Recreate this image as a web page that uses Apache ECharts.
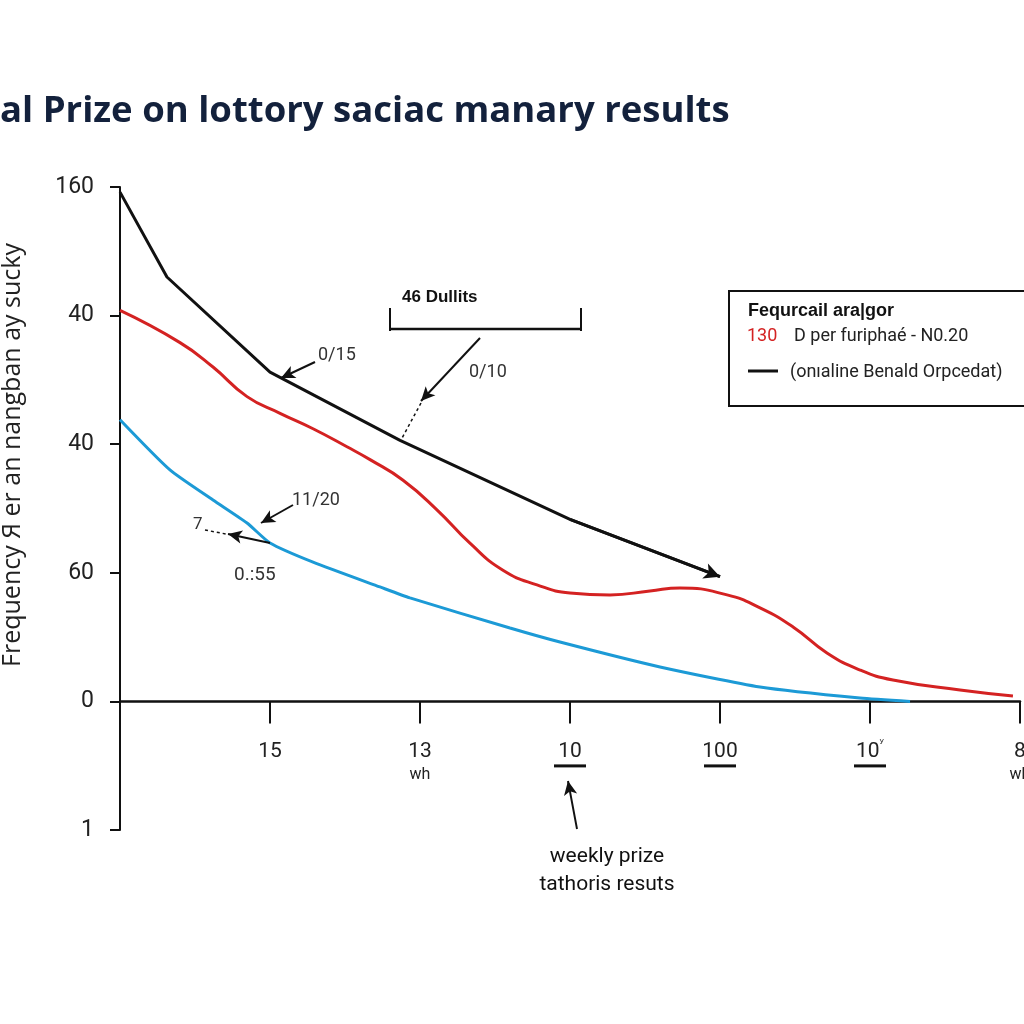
<!DOCTYPE html>
<html><head><meta charset="utf-8">
<script src="https://cdn.jsdelivr.net/npm/echarts@6/dist/echarts.min.js"></script>
<style>html,body{margin:0;padding:0;background:#fff;overflow:hidden;width:1024px;height:1024px}#c{width:1024px;height:1024px}</style>
</head><body><div id="c"></div>
<script>
// ---- text ----
const titleText = 'al Prize on lottory saciac manary results';
const yAxisTitle = 'Frequency Я er an nangban ay sucky';
// y tick labels for values -1,0,1,2,3,4
const yTickLabels = ['1', '0', '60', '40', '40', '160'];
// x tick labels for values 0..6
const xTickLabels = ['', '15', '13', '10', '100', '10', '8'];
const xTickSub = ['', '', 'wh', '', '', '', 'wh'];
const xTickSup = ['', '', '', '', '', 'ʸ', ''];
const xTickUnderlined = [false, false, false, true, true, true, false];

// ---- series (axis units) ----
const blackX = [0, 0.313, 1.0, 1.867, 3.0, 4.0];
const blackY = [3.96, 3.30, 2.56, 2.03, 1.415, 0.97];

const redX = [0, 0.4, 0.62, 0.847, 1.067, 1.287, 1.513, 1.667, 1.887, 2.113, 2.333, 2.553, 2.78, 3.0, 3.267, 3.533, 3.733, 4.047, 4.267, 4.487, 4.713, 4.933, 5.153, 5.6, 5.953];
const redY = [3.04, 2.79, 2.60, 2.37, 2.24, 2.12, 1.98, 1.88, 1.72, 1.49, 1.23, 1.02, 0.906, 0.843, 0.828, 0.859, 0.882, 0.828, 0.727, 0.579, 0.377, 0.244, 0.166, 0.089, 0.042];

const blueX = [0, 0.333, 0.62, 0.847, 1.0, 1.287, 1.733, 1.933, 2.6, 2.933, 3.6, 4.267, 4.933, 5.267];
const blueY = [2.19, 1.80, 1.566, 1.387, 1.232, 1.083, 0.89, 0.805, 0.571, 0.462, 0.268, 0.112, 0.026, 0.0];

const zip = (xs, ys) => xs.map((x, i) => [x, ys[i]]);

// annotation helpers (pixel -> axis units for this grid)
const GX0 = 120, GXU = 150, GY0 = 701.4, GYU = 128.6;
const X = px => (px - GX0) / GXU;
const Y = py => (GY0 - py) / GYU;
const arrow = (x1, y1, x2, y2, dotted) => [
  { coord: [X(x1), Y(y1)], symbol: 'none', lineStyle: { type: dotted ? [3, 3] : 'solid', width: dotted ? 1.5 : 2, color: '#111' } },
  { coord: [X(x2), Y(y2)], symbol: dotted ? 'none' : 'arrow', symbolSize: [10, 14] }
];

const chart = echarts.init(document.getElementById('c'), null, { renderer: 'canvas', width: 1024, height: 1024 });
const FONT = 'Roboto, "DejaVu Sans", sans-serif';

const option = {
  backgroundColor: '#ffffff',
  animation: false,
  grid: { left: 120, right: 4, top: 187, bottom: 194, containLabel: false, outerBoundsMode: 'none' },
  xAxis: {
    type: 'value', min: 0, max: 6, interval: 1,
    offset: -128.6,
    axisLine: { onZero: false, lineStyle: { color: '#111', width: 2.5 } },
    axisTick: { show: true, length: 22, lineStyle: { color: '#111', width: 2 } },
    splitLine: { show: false },
    axisLabel: {
      margin: 37, color: '#222', fontFamily: FONT, fontSize: 21,
      formatter: v => {
        const i = Math.round(v);
        if (!xTickLabels[i]) return '';
        let s = '{n|' + xTickLabels[i] + '}';
        if (xTickSup[i]) s += '{sup|' + xTickSup[i] + '}';
        if (xTickUnderlined[i]) s += '\n{u| }';
        if (xTickSub[i]) s += '\n{w|' + xTickSub[i] + '}';
        return s;
      },
      rich: {
        n: { fontSize: 21, lineHeight: 26, color: '#222', fontFamily: FONT },
        sup: { fontSize: 12, lineHeight: 26, color: '#222', verticalAlign: 'top', padding: [0, 0, 10, 0], fontFamily: FONT },
        u: { width: 32, height: 3, lineHeight: 3, fontSize: 2, backgroundColor: '#111' },
        w: { fontSize: 16, lineHeight: 22, color: '#222', fontFamily: FONT }
      }
    }
  },
  yAxis: {
    type: 'value', min: -1, max: 4, interval: 1,
    axisLine: { show: true, lineStyle: { color: '#111', width: 2 } },
    axisTick: { show: true, length: 10, lineStyle: { color: '#111', width: 2 } },
    splitLine: { show: false },
    axisLabel: {
      margin: 26, color: '#222', fontFamily: FONT, fontSize: 23,
      formatter: v => yTickLabels[Math.round(v) + 1]
    }
  },
  series: [
    {
      name: 'black', type: 'line', data: zip(blackX, blackY), showSymbol: false, symbol: 'none', z: 5, clip: false,
      lineStyle: { color: '#111', width: 3 },
      markLine: {
        silent: true, animation: false, label: { show: false }, symbol: ['none', 'arrow'],
        lineStyle: { color: '#111', width: 2 },
        data: [
          [{ coord: [blackX[4], blackY[4]], symbol: 'none', lineStyle: { width: 3, color: '#111', type: 'solid' } },
           { coord: [blackX[5], blackY[5]], symbol: 'arrow', symbolSize: [12, 16] }],
          arrow(315, 362, 281, 378),
          arrow(480, 338, 421, 401),
          arrow(421, 403, 401, 440, true),
          arrow(293, 505, 261, 523),
          arrow(270, 543, 228, 534),
          arrow(205, 530, 226, 534, true),
          arrow(577, 829, 568, 781)
        ]
      }
    },
    {
      name: 'red', type: 'line', data: zip(redX, redY), showSymbol: false, symbol: 'none', smooth: 0.5, z: 4,
      lineStyle: { color: '#d42222', width: 3 }
    },
    {
      name: 'blue', type: 'line', data: zip(blueX, blueY), showSymbol: false, symbol: 'none', smooth: 0.2, z: 3,
      lineStyle: { color: '#1c9ad6', width: 3 }
    }
  ],
  graphic: [
    { type: 'text', left: 0, top: 93, style: { text: titleText, fill: '#13213c', font: 'bold 36.5px "Open Sans", sans-serif' } },
    { type: 'text', x: 0, y: 455, rotation: Math.PI / 2, style: { text: yAxisTitle, fill: '#222', font: '25px "Open Sans", sans-serif', align: 'center', verticalAlign: 'top' } },
    // bracket "46 Dullits"
    { type: 'polyline', shape: { points: [[390, 308], [390, 331]] }, style: { stroke: '#111', lineWidth: 2 } },
    { type: 'polyline', shape: { points: [[581, 308], [581, 331]] }, style: { stroke: '#111', lineWidth: 2 } },
    { type: 'polyline', shape: { points: [[390, 329], [581, 329]] }, style: { stroke: '#111', lineWidth: 2.5 } },
    { type: 'text', x: 402, y: 297, style: { text: '46 Dullits', fill: '#111', font: 'bold 17px "Liberation Sans Narrow", "Liberation Sans", sans-serif', verticalAlign: 'middle' } },
    // annotation texts
    { type: 'text', x: 318, y: 355, style: { text: '0/15', fill: '#333', font: '18px Roboto, sans-serif', verticalAlign: 'middle' } },
    { type: 'text', x: 469, y: 372, style: { text: '0/10', fill: '#333', font: '18px Roboto, sans-serif', verticalAlign: 'middle' } },
    { type: 'text', x: 292, y: 500, style: { text: '11/20', fill: '#333', font: '18px Roboto, sans-serif', verticalAlign: 'middle' } },
    { type: 'text', x: 193, y: 525, style: { text: '7', fill: '#333', font: '17px Roboto, sans-serif', verticalAlign: 'middle' } },
    { type: 'text', x: 234, y: 575, style: { text: '0.:55', fill: '#333', font: '19px Roboto, sans-serif', verticalAlign: 'middle' } },
    { type: 'text', x: 607, y: 857, style: { text: 'weekly prize', fill: '#111', font: '21px Roboto, sans-serif', align: 'center', verticalAlign: 'middle' } },
    { type: 'text', x: 607, y: 885, style: { text: 'tathoris resuts', fill: '#111', font: '21px Roboto, sans-serif', align: 'center', verticalAlign: 'middle' } },
    // legend box
    { type: 'rect', shape: { x: 729, y: 291, width: 310, height: 115 }, style: { fill: '#fff', stroke: '#111', lineWidth: 2 }, z: 10 },
    { type: 'text', x: 748, y: 311, z: 11, style: { text: 'Fequrcail ara|gor', fill: '#111', font: 'bold 18px "Liberation Sans Narrow", "Liberation Sans", sans-serif', verticalAlign: 'middle' } },
    { type: 'text', x: 747, y: 336, z: 11, style: { text: '130', fill: '#d42222', font: '18px Roboto, sans-serif', verticalAlign: 'middle' } },
    { type: 'text', x: 794, y: 336, z: 11, style: { text: 'D per furiphaé - N0.20', fill: '#222', font: '18px Roboto, sans-serif', verticalAlign: 'middle' } },
    { type: 'polyline', z: 11, shape: { points: [[748, 371], [778, 371]] }, style: { stroke: '#111', lineWidth: 3 } },
    { type: 'text', x: 790, y: 372, z: 11, style: { text: '(onıaline Benald Orpcedat)', fill: '#222', font: '18px Roboto, sans-serif', verticalAlign: 'middle' } }
  ]
};
chart.setOption(option);
</script>
</body></html>
